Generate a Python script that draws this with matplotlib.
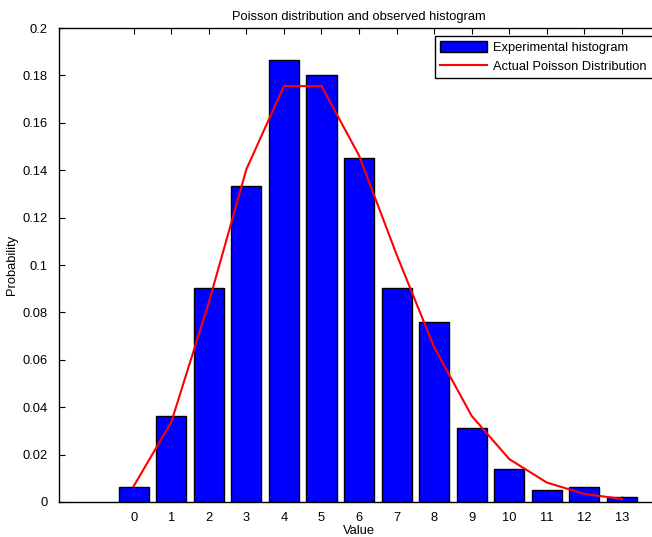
import matplotlib
matplotlib.use("Agg")
import matplotlib.pyplot as plt

values = list(range(14))
observed = [0.0063, 0.0363, 0.0903, 0.1333, 0.1865, 0.1800, 0.1451,
            0.0903, 0.0759, 0.0312, 0.0139, 0.0051, 0.0063, 0.0021]
poisson = [0.0067, 0.0337, 0.0842, 0.1404, 0.1755, 0.1755, 0.1462,
           0.1044, 0.0653, 0.0363, 0.0181, 0.0082, 0.0034, 0.0013]
yticks = [0, 0.02, 0.04, 0.06, 0.08, 0.1, 0.12, 0.14, 0.16, 0.18, 0.2]
ytick_labels = ["0", "0.02", "0.04", "0.06", "0.08", "0.1", "0.12", "0.14", "0.16", "0.18", "0.2"]

plt.rcParams['font.family'] = ['Liberation Sans', 'DejaVu Sans']
FS = 9.3
W, H = 652, 537
fig = plt.figure(figsize=(W / 100, H / 100), dpi=100)
ax = fig.add_axes([58.6 / W, 1 - 502 / H, (659.5 - 58.6) / W, (502 - 28) / H])

bars = ax.bar(values, observed, width=0.8, color='#0000ff', edgecolor='black',
              linewidth=1.0, label='Experimental histogram', zorder=2)
line, = ax.plot(values, poisson, color='#ff0000', linewidth=1.5,
                label='Actual Poisson Distribution', zorder=3)

ax.set_xlim(-2, 14)
ax.set_ylim(0, 0.2)
ax.set_xticks(values)
ax.set_xticklabels([str(v) for v in values])
ax.set_yticks(yticks)
ax.set_yticklabels(ytick_labels)
ax.tick_params(direction='in', top=True, right=True, labelsize=FS,
               length=4, width=0.8)
ax.tick_params(axis='x', pad=7)
ax.tick_params(axis='y', pad=8)
for s in ax.spines.values():
    s.set_linewidth(1.0)

ax.set_title('Poisson distribution and observed histogram', fontsize=FS, pad=6)
ax.set_xlabel('Value', fontsize=FS, labelpad=1)
ax.set_ylabel('Probability', fontsize=FS, labelpad=3)

x0, y1 = 435 / W, 1 - 36 / H
leg = ax.legend([bars, line], ['Experimental histogram', 'Actual Poisson Distribution'],
                loc='upper left', bbox_to_anchor=(x0, y1 - 0.2, 665 / W - x0, 0.2),
                mode='expand',
                bbox_transform=fig.transFigure, fontsize=FS, frameon=True,
                fancybox=False, edgecolor='black', framealpha=1,
                handlelength=3.6, handleheight=0.9, borderpad=0.4,
                labelspacing=0.45, handletextpad=0.5, borderaxespad=0)
leg.get_frame().set_linewidth(1.0)

fig.savefig('out.png', dpi=100)
